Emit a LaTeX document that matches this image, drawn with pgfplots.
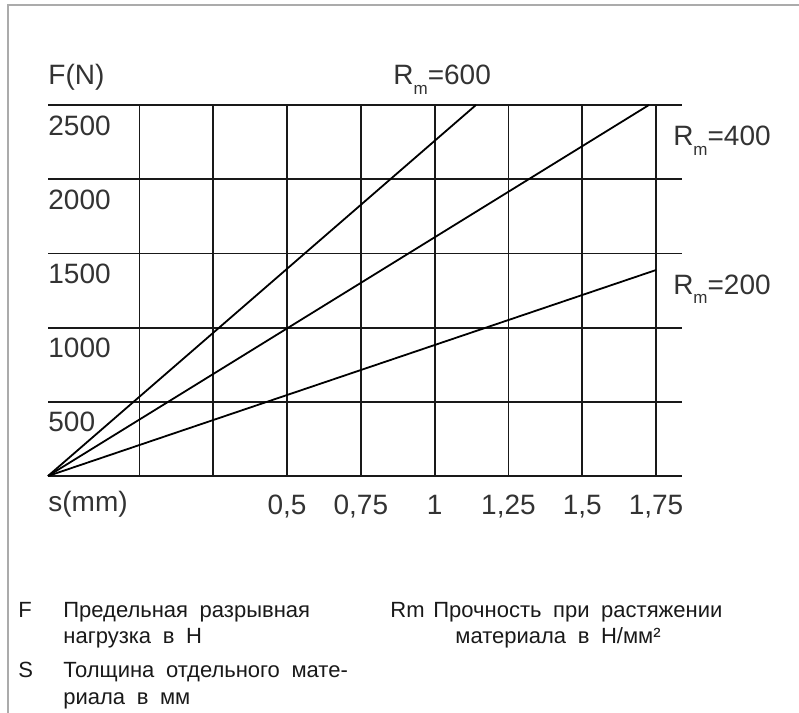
\documentclass[border=0pt]{standalone}
\usepackage{pgfplots}
\pgfplotsset{compat=1.18}
\usepackage{fontspec}
\setmainfont{Liberation Sans}
\newfontfamily\legfont[WordSpace=1.9]{Liberation Sans}
\newcommand\Rm[1]{R\raisebox{-4.6pt}{\fontsize{8.5}{8.5}\selectfont m}=#1}
\begin{document}
\begin{tikzpicture}
\useasboundingbox (-24pt,-118.5pt) rectangle (375.5pt,238pt);
% frame
\draw[color=black!33, line width=1pt] (-20pt,-118.5pt) -- (-20pt,235.5pt) -- (375.5pt,235.5pt);
\begin{axis}[
	scale only axis,
	width=317pt, height=185.5pt,
	xmin=-0.31, xmax=1.838,
	ymin=0, ymax=2500,
	axis line style={draw=none},
	major tick length=0pt,
	clip=false,
	grid=major,
	major grid style={black!90, line width=0.9pt},
	xtick={0,0.25,0.5,0.75,1,1.25,1.5,1.75},
	xticklabels={{},{},{0,5},{0,75},{1},{1,25},{1,5},{1,75}},
	ytick={0,500,1000,1500,2000,2500},
	yticklabels={{},{500},{1000},{1500},{2000},{2500}},
	ticklabel style={font=\fontsize{14}{14}\selectfont, text=black!80, inner sep=0pt},
	xticklabel style={anchor=base, yshift=-19pt},
	yticklabel style={anchor=base west, yshift=-15pt},
]
\addplot[black, line width=0.9pt] coordinates {(-0.31,0) (1.140,2500)};
\addplot[black, line width=0.9pt] coordinates {(-0.31,0) (1.726,2500)};
\addplot[black, line width=0.9pt] coordinates {(-0.31,0) (1.75,1388)};
\begin{scope}[every node/.style={inner sep=0pt, anchor=base west, text=black!80, font=\fontsize{14}{14}\selectfont}]
\node at (axis cs:-0.31,2635) {F(N)};
\node at (axis cs:0.859,2635) {\Rm{600}};
\node at (axis cs:1.807,2224) {\Rm{400}};
\node at (axis cs:1.807,1226) {\Rm{200}};
\node at (axis cs:-0.31,-236) {s(mm)};
\end{scope}
\end{axis}
\begin{scope}[every node/.style={inner sep=0pt, anchor=base west, text=black!90, font=\legfont\fontsize{11}{11}\selectfont}]
\node at (-15pt,-70.5pt) {F};
\node at (7.5pt,-70.5pt) {Предельная разрывная};
\node at (7.5pt,-83.5pt) {нагрузка в Н};
\node at (-15pt,-100.5pt) {S};
\node at (7.5pt,-100.5pt) {Толщина отдельного мате-};
\node at (7.5pt,-114pt) {риала в мм};
\node at (171pt,-70.5pt) {Rm};
\node at (192.5pt,-70.5pt) {Прочность при растяжении};
\node at (203.5pt,-83.5pt) {материала в Н/мм²};
\end{scope}
\end{tikzpicture}
\end{document}
